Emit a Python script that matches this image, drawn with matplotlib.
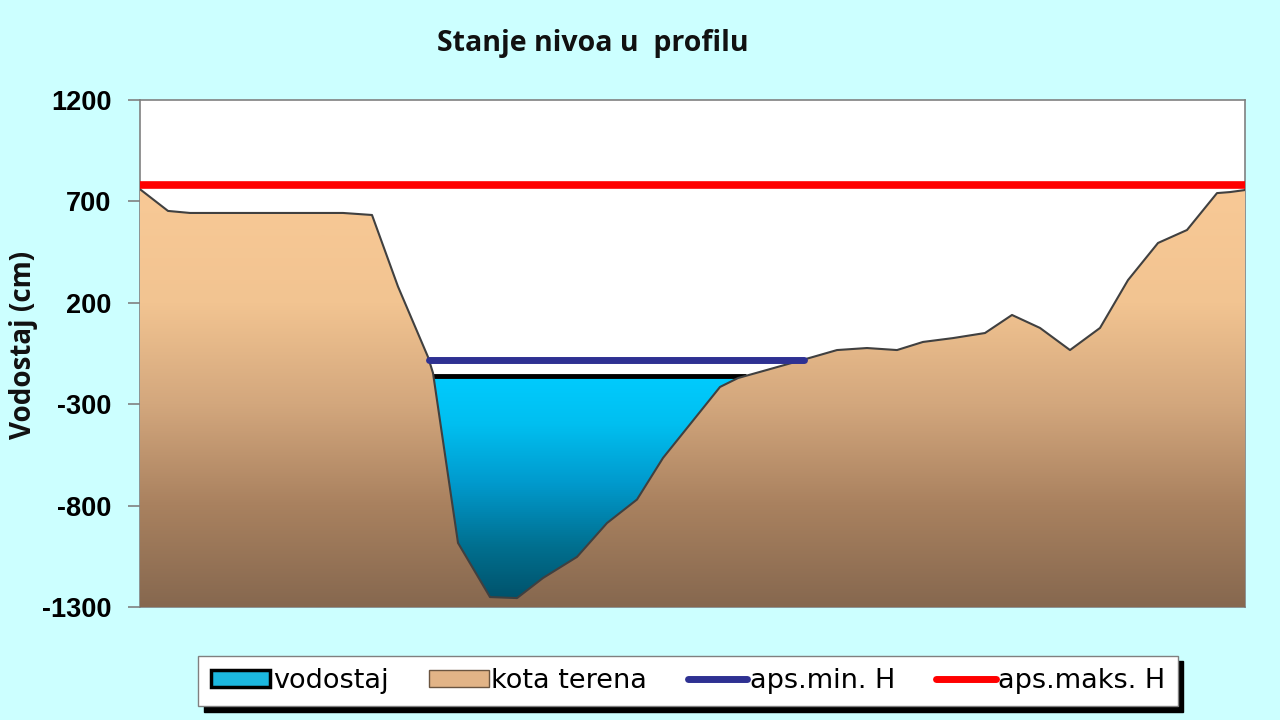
import numpy as np
import matplotlib
matplotlib.use("Agg")
import matplotlib.pyplot as plt
from matplotlib.colors import LinearSegmentedColormap, Normalize
from matplotlib.patches import Polygon, Patch
from matplotlib.lines import Line2D

# ---------------- data ----------------
station = [0.0, 2.8, 5.0, 20.3, 23.2, 25.8, 28.8, 29.3, 31.8, 35.0, 37.7, 40.3,
           43.7, 46.7, 49.7, 52.3, 58.0, 59.8, 62.7, 67.3, 69.7, 72.7, 75.7,
           78.3, 81.3, 84.5, 87.2, 90.0, 93.0, 96.0, 98.8, 101.8, 104.7, 107.7,
           109.0, 110.5]
kota_terena = [760, 653, 643, 643, 633, 280, -67, -146, -984, -1251, -1256, -1157,
               -1053, -886, -770, -565, -215, -171, -131, -67, -33, -23, -33,
               7, 26, 51, 140, 76, -33, 76, 312, 495, 559, 741,
               746, 756]
vodostaj = -160        # current water level (cm)
aps_min_h = -80        # absolute minimum level (cm)
aps_maks_h = 780       # absolute maximum level (cm)
y_ticks = [1200, 700, 200, -300, -800, -1300]

title = "Stanje nivoa u  profilu"
ylabel = "Vodostaj (cm)"
legend_labels = ["vodostaj", "kota terena", "aps.min. H", "aps.maks. H"]

# ---------------- styles ----------------
BG = "#CCFFFF"
terrain_cmap = LinearSegmentedColormap.from_list(
    "terrain", [(0.0, "#86684F"), (0.2, "#A9815F"), (0.4, "#D3A77D"),
                (0.6, "#F2C491"), (1.0, "#FDCD9A")])
water_cmap = LinearSegmentedColormap.from_list(
    "water", [(0.0, "#004E66"), (0.12, "#007090"), (0.24, "#0099CC"),
              (0.36, "#00BFF0"), (0.46, "#00CCFF"), (1.0, "#00CCFF")])

x = np.array(station, dtype=float)
t = np.array(kota_terena, dtype=float)
ymin, ymax = y_ticks[-1], y_ticks[0]


def crossings(level):
    xs = []
    for i in range(len(x) - 1):
        a, b = t[i] - level, t[i + 1] - level
        if a == 0:
            xs.append(x[i])
        elif a * b < 0:
            xs.append(x[i] + (x[i + 1] - x[i]) * a / (a - b))
    return xs


fig = plt.figure(figsize=(12.8, 7.2), dpi=100, facecolor=BG)
ax = fig.add_axes([140/1280, 113/720, 1105/1280, 507/720])
ax.set_facecolor("white")
ax.set_xlim(x[0], x[-1])
ax.set_ylim(ymin, ymax)

grad = np.linspace(ymin, ymax, 512).reshape(-1, 1)
norm = Normalize(ymin, ymax)

# water area (to bottom, terrain drawn over it)
wc = crossings(vodostaj)
wpoly = Polygon([(wc[0], ymin), (wc[0], vodostaj), (wc[1], vodostaj), (wc[1], ymin)],
                closed=True, facecolor="none", edgecolor="none")
ax.add_patch(wpoly)
wim = ax.imshow(grad, extent=[x[0], x[-1], ymin, ymax], origin="lower",
                aspect="auto", cmap=water_cmap, norm=norm, zorder=1)
wim.set_clip_path(wpoly)
ax.plot([wc[0], wc[1]], [vodostaj, vodostaj], color="black", lw=3.5, zorder=2,
        solid_capstyle="butt")

# terrain
verts = [(x[0], ymin)] + list(zip(x, t)) + [(x[-1], ymin)]
tpoly = Polygon(verts, closed=True, facecolor="none", edgecolor="none")
ax.add_patch(tpoly)
tim = ax.imshow(grad, extent=[x[0], x[-1], ymin, ymax], origin="lower",
                aspect="auto", cmap=terrain_cmap, norm=norm, zorder=3)
tim.set_clip_path(tpoly)
ax.plot(x, t, color="#404040", lw=1.5, zorder=4)

# aps.min. H line over the channel
bc = crossings(aps_min_h)
ax.plot([bc[0], bc[1]], [aps_min_h, aps_min_h], color="#2E3192", lw=5, zorder=5,
        solid_capstyle="round")
# aps.maks. H line full width
ax.plot([x[0], x[-1]], [aps_maks_h, aps_maks_h], color="#FF0000", lw=5.5,
        zorder=5, solid_capstyle="butt")

# axes styling
for s in ax.spines.values():
    s.set_color("#808080")
    s.set_linewidth(1.2)
ax.set_xticks([])
ax.set_yticks(y_ticks)
ax.set_yticklabels([str(v) for v in y_ticks], family="Liberation Sans",
                   fontweight="bold", fontsize=19.5)
ax.tick_params(axis="y", direction="out", length=8.5, width=1.2,
               color="#808080", pad=12)

fig.text(593/1280, 1 - 44/720, title, family="Open Sans", fontweight="bold",
         fontsize=20.5, ha="center", va="center", color="#111111")
fig.text(24/1280, 1 - 345/720, ylabel, family="Open Sans", fontweight="bold",
         fontsize=20, rotation=90, ha="center", va="center", color="#111111")

handles = [
    Patch(facecolor="#1CB8E0", edgecolor="black", linewidth=2.5),
    Patch(facecolor="#E2B487", edgecolor="#6B5540", linewidth=1.0),
    Line2D([0], [0], color="#2E3192", lw=5, solid_capstyle="round"),
    Line2D([0], [0], color="#FF0000", lw=5, solid_capstyle="round"),
]
leg = fig.legend(handles, legend_labels, loc="center",
                 bbox_to_anchor=(688/1280, 1 - 681/720), ncol=4,
                 prop={"family": "DejaVu Sans", "size": 19.5},
                 frameon=True, fancybox=False, framealpha=1,
                 edgecolor="#808080", facecolor="white",
                 handlelength=2.2, handleheight=0.55, handletextpad=0.1,
                 columnspacing=1.5, borderpad=0.45, borderaxespad=0,
                 shadow={"ox": 4, "oy": -4, "color": "black", "alpha": 1})
leg.get_frame().set_linewidth(1.0)

fig.savefig("out.png", dpi=100, facecolor=BG)
